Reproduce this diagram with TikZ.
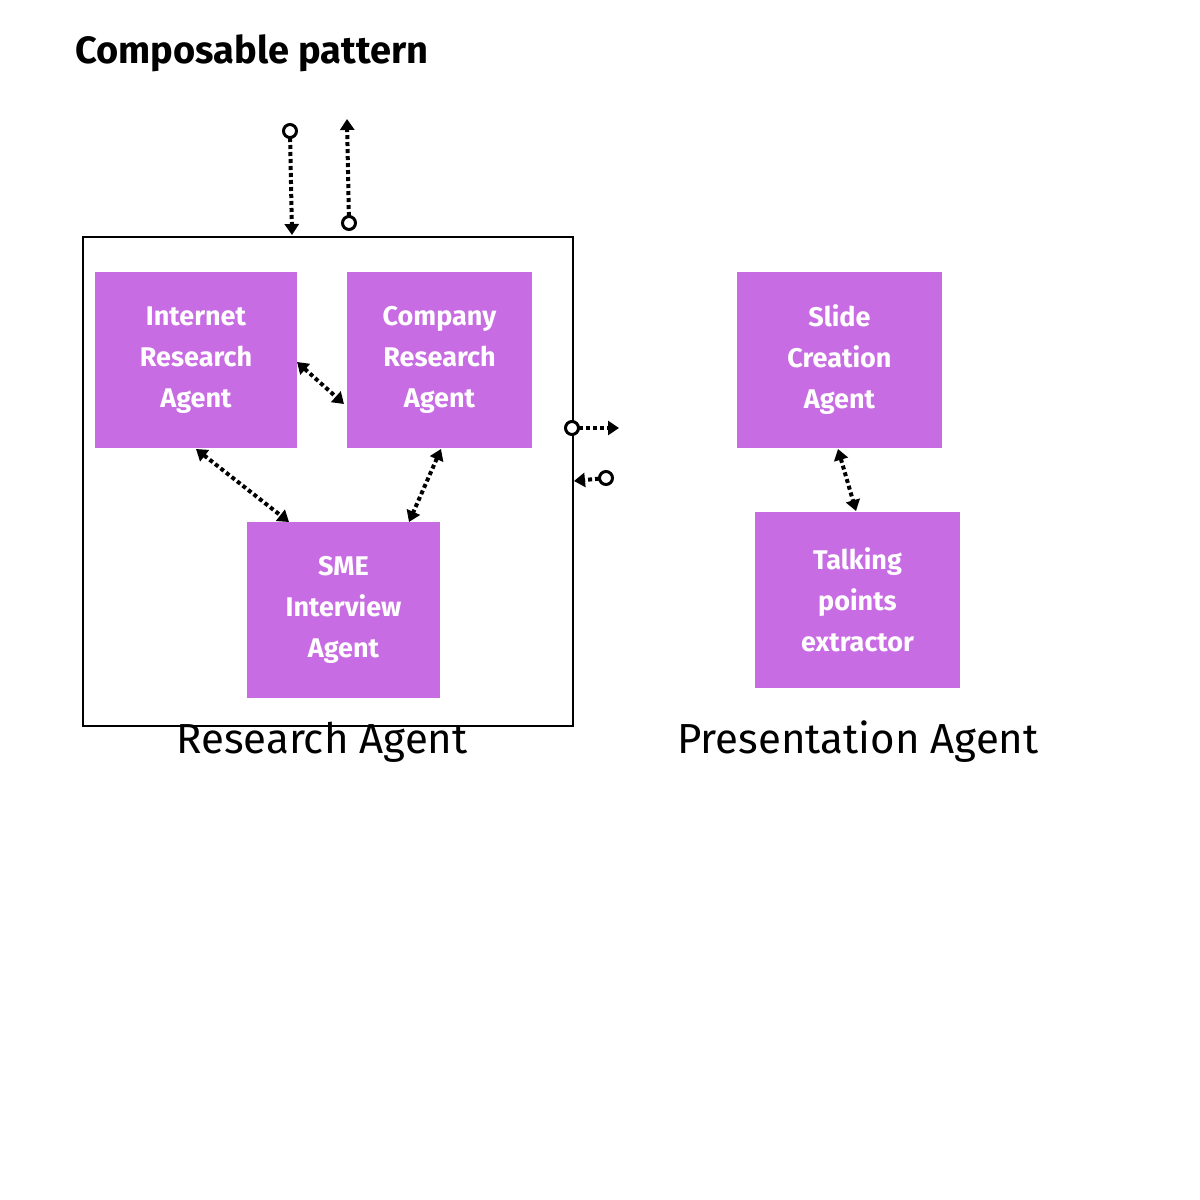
\documentclass[tikz,border=0pt]{standalone}
\usepackage{fontspec}
\setmainfont{Fira Sans}
\usetikzlibrary{arrows.meta}
\definecolor{agent}{RGB}{200,108,228}
\begin{document}
\begin{tikzpicture}[x=1pt,y=-1pt,
 agent/.style={fill=agent,draw=none,inner sep=0,align=center,text=white,font=\fontsize{27}{41}\selectfont\bfseries},
 con/.style={line width=4pt,dash pattern=on 4pt off 3pt,-{Triangle[length=11pt,width=14pt]}},
 bi/.style={line width=4pt,dash pattern=on 4pt off 3pt,{Triangle[length=11pt,width=14pt]}-{Triangle[length=11pt,width=14pt]}},
 dot/.style={circle,draw,line width=3pt,fill=white,minimum size=13pt,inner sep=0}]
\useasboundingbox (0,0) rectangle (1200,1200);
\node[anchor=west,font=\fontsize{38}{40}\selectfont\bfseries] (title) at (72,53) {Composable pattern};
\draw[line width=2pt] (83,237) rectangle (573,726);
\draw[agent,line width=1.5pt,fill=none] (619,237) rectangle (1097,713);
\node[font=\fontsize{42}{44}\selectfont] (rl) at (322,742) {Research Agent};
\node[font=\fontsize{42}{44}\selectfont] (pl) at (858,742) {Presentation Agent};
\node[agent,minimum width=202pt,minimum height=176pt] (inet) at (196,360) {Internet\\Research\\Agent};
\node[agent,minimum width=185pt,minimum height=176pt] (comp) at (439.5,360) {Company\\Research\\Agent};
\node[agent,minimum width=193pt,minimum height=176pt] (sme) at (343.5,610) {SME\\Interview\\Agent};
\node[agent,minimum width=205pt,minimum height=176pt] (slide) at (839.5,360) {Slide\\Creation\\Agent};
\node[agent,minimum width=205pt,minimum height=176pt] (talk) at (857.5,600) {Talking\\points\\extractor};
\coordinate (d1) at (290,131); \coordinate (d1e) at (292,235);
\coordinate (u1) at (349,223); \coordinate (u1e) at (347,119);
\coordinate (r1) at (572,428); \coordinate (r1e) at (619,428);
\coordinate (l1) at (606,478); \coordinate (l1e) at (574,481);
\draw[con] (d1) -- (d1e);
\draw[con] (u1) -- (u1e);
\draw[con] (r1) -- (r1e);
\draw[con] (l1) -- (l1e);
\node[dot] at (d1) {}; \node[dot] at (u1) {}; \node[dot] at (r1) {}; \node[dot] at (l1) {};
\draw[bi] (297,362) -- (344,404);
\draw[bi] (196,449) -- (289,522);
\draw[bi] (441,449) -- (409,522);
\draw[bi] (838,449) -- (856,511);
\end{tikzpicture}
\end{document}
